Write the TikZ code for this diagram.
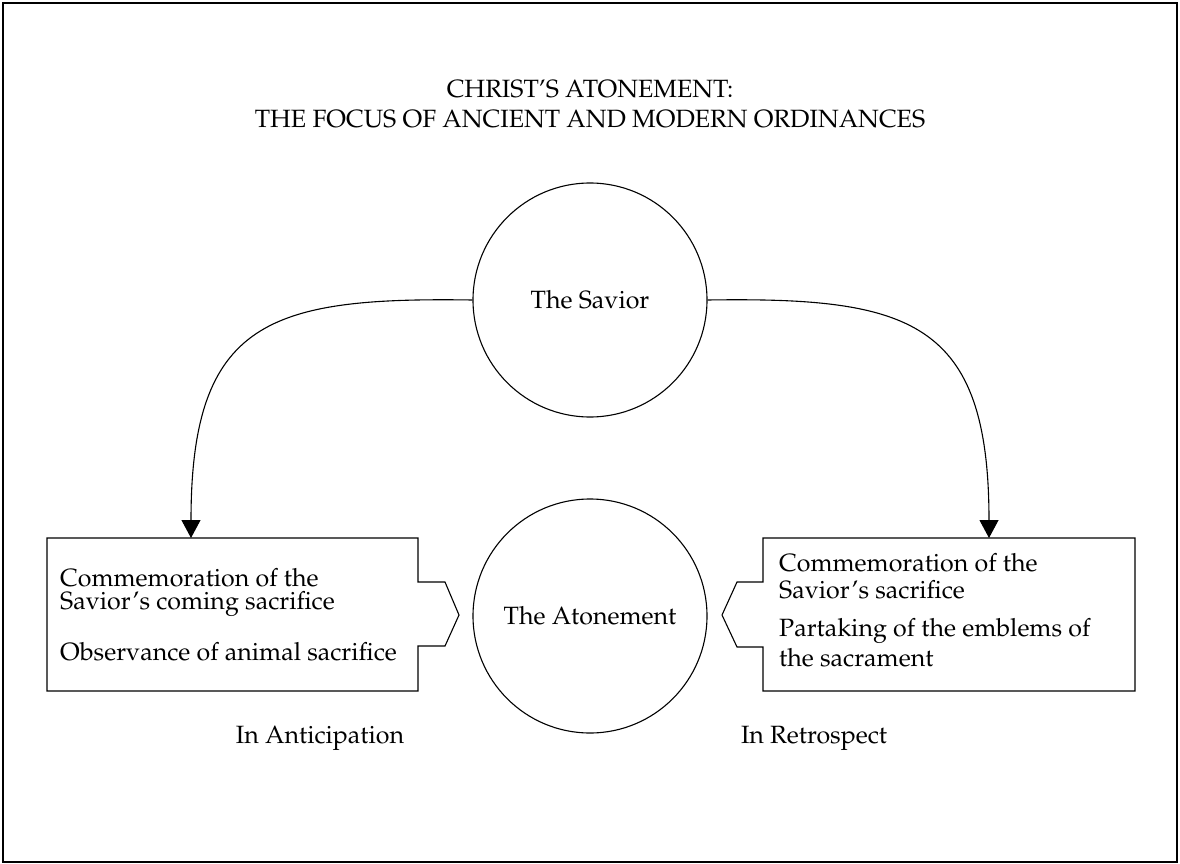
\documentclass[tikz,border=0pt]{standalone}
\usepackage[T1]{fontenc}
\usepackage{mathpazo}
\usetikzlibrary{arrows.meta}
\tikzset{
  frame/.style={draw=black, line width=1.4pt},
  outline/.style={draw=black, line width=1.1pt},
  bubble/.style={circle, draw=black, line width=1.1pt, minimum size=234pt, inner sep=0pt, font=\fontsize{25}{30}\selectfont},
  itemtext/.style={anchor=west, inner sep=0pt, font=\fontsize{25}{30}\selectfont},
  caption/.style={inner sep=0pt, font=\fontsize{25}{30}\selectfont},
  flow/.style={draw=black, line width=1.1pt, -{Triangle[length=18pt,width=19pt]}},
}
\begin{document}
\begin{tikzpicture}[x=1pt, y=-1pt]
  \useasboundingbox (0,0) rectangle (1180,864);
  \draw[frame] (3,3) rectangle (1177,862);

  % heading
  \node[caption, align=center] (title) at (590,104)
    {CHRIST'S ATONEMENT:\\THE FOCUS OF ANCIENT AND MODERN ORDINANCES};

  % the two circles
  \node[bubble] (savior) at (590,300) {The Savior};
  \node[bubble] (atone) at (590,616) {The Atonement};

  % left panel with notch pointing to the centre
  \draw[outline] (47,538) coordinate (lbox) -- (418,538) -- (418,582) -- (445,582)
    -- (459,615) -- (445,646) -- (418,646) -- (418,691) -- (47,691) -- cycle;
  % right panel with notch pointing to the centre
  \draw[outline] (1135,538) coordinate (rbox) -- (763,538) -- (763,582) -- (737,582)
    -- (722,615) -- (737,647) -- (763,647) -- (763,691) -- (1135,691) -- cycle;

  \coordinate (ltip) at (191,538);
  \coordinate (rtip) at (989,538);

  \node[itemtext] (l1) at (60,578) {Commemoration of the};
  \node[itemtext] (l2) at (60,604) {Savior's coming sacrifice};
  \node[itemtext] (l3) at (60,652) {Observance of animal sacrifice};

  \node[itemtext] (r1) at (779,563) {Commemoration of the};
  \node[itemtext] (r2) at (779,590) {Savior's sacrifice};
  \node[itemtext] (r3) at (779,631) {Partaking of the emblems of};
  \node[itemtext] (r4) at (779,658) {the sacrament};

  \node[caption] (ant) at (320,738) {In Anticipation};
  \node[caption] (ret) at (814,738) {In Retrospect};

  % connectors from the Savior down to each panel
  \draw[flow] (savior.west) .. controls (270,297) and (191,320) .. (ltip);
  \draw[flow] (savior.east) .. controls (910,297) and (989,320) .. (rtip);
\end{tikzpicture}
\end{document}
